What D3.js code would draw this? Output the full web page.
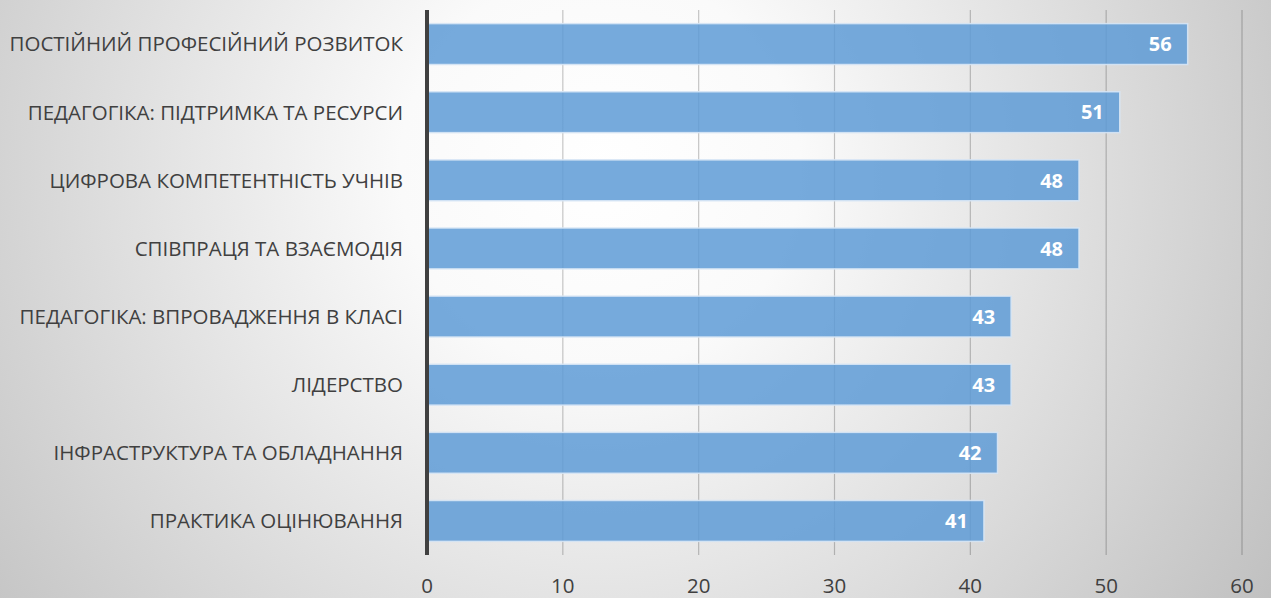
<!DOCTYPE html>
<html>
<head>
<meta charset="utf-8">
<script src="https://d3js.org/d3.v7.min.js"></script>
<style>
  html, body { margin: 0; padding: 0; overflow: hidden; }
  svg { display: block; }
</style>
</head>
<body>
<script>
  // chart data
  var categories = [
    "ПОСТІЙНИЙ ПРОФЕСІЙНИЙ РОЗВИТОК",
    "ПЕДАГОГІКА: ПІДТРИМКА ТА РЕСУРСИ",
    "ЦИФРОВА КОМПЕТЕНТНІСТЬ УЧНІВ",
    "СПІВПРАЦЯ ТА ВЗАЄМОДІЯ",
    "ПЕДАГОГІКА: ВПРОВАДЖЕННЯ В КЛАСІ",
    "ЛІДЕРСТВО",
    "ІНФРАСТРУКТУРА ТА ОБЛАДНАННЯ",
    "ПРАКТИКА ОЦІНЮВАННЯ"
  ];
  var values = [56, 51, 48, 48, 43, 43, 42, 41];
  var ticks = [0, 10, 20, 30, 40, 50, 60];

  function draw() {
    "use strict";
    var W = 1271, H = 598;
    var plotLeft = 427, plotRight = 1242, plotTop = 10, plotBottom = 555;

    var svg = d3.select("body").append("svg")
        .attr("width", W)
        .attr("height", H);

    // background gradient
    var grad = svg.append("defs").append("radialGradient")
        .attr("id", "bg")
        .attr("gradientUnits", "userSpaceOnUse")
        .attr("cx", 600).attr("cy", 170).attr("r", 800);
    grad.append("stop").attr("offset", "0%").attr("stop-color", "#ffffff");
    grad.append("stop").attr("offset", "25%").attr("stop-color", "#fafafa");
    grad.append("stop").attr("offset", "100%").attr("stop-color", "#c0c0c0");
    svg.append("rect").attr("width", W).attr("height", H).attr("fill", "url(#bg)");

    var x = d3.scaleLinear().domain([0, 60]).range([plotLeft, plotRight]);
    var y = d3.scaleBand().domain(categories).range([plotTop, plotBottom])
        .paddingInner(0.4).paddingOuter(0.2);

    // gridlines
    svg.append("g")
      .selectAll("line")
      .data(ticks.slice(1))
      .join("line")
        .attr("x1", d => x(d)).attr("x2", d => x(d))
        .attr("y1", plotTop).attr("y2", plotBottom)
        .attr("stroke", "rgba(0,0,0,0.22)")
        .attr("stroke-width", 1.2);

    // tick labels
    svg.append("g")
      .selectAll("text")
      .data(ticks)
      .join("text")
        .attr("x", d => x(d))
        .attr("y", 593)
        .attr("text-anchor", "middle")
        .style("font-family", "Open Sans")
        .style("font-size", "20.5px")
        .style("fill", "#404040")
        .text(d => d);

    // bars
    svg.append("g")
      .selectAll("rect")
      .data(values)
      .join("rect")
        .attr("x", x(0))
        .attr("y", (d, i) => y(categories[i]))
        .attr("width", d => x(d) - x(0))
        .attr("height", y.bandwidth())
        .attr("fill", "rgba(94,155,214,0.85)")
        .attr("stroke", "rgba(215,230,245,0.9)")
        .attr("stroke-width", 1.5);

    // value labels
    svg.append("g")
      .selectAll("text")
      .data(values)
      .join("text")
        .attr("x", d => x(d) - 16)
        .attr("y", (d, i) => y(categories[i]) + y.bandwidth() / 2)
        .attr("dy", "0.36em")
        .attr("text-anchor", "end")
        .style("font-family", "Open Sans")
        .style("font-weight", "bold")
        .style("font-size", "20px")
        .style("fill", "#ffffff")
        .text(d => d);

    // category labels
    svg.append("g")
      .selectAll("text")
      .data(categories)
      .join("text")
        .attr("x", 403)
        .attr("y", d => y(d) + y.bandwidth() / 2)
        .attr("dy", "0.36em")
        .attr("text-anchor", "end")
        .style("font-family", "Open Sans")
        .style("font-size", "20.5px")
        .style("fill", "#404040")
        .text(d => d);

    // vertical axis line
    svg.append("line")
      .attr("x1", x(0)).attr("x2", x(0))
      .attr("y1", plotTop).attr("y2", plotBottom)
      .attr("stroke", "#404040")
      .attr("stroke-width", 4);
  }

  draw();
</script>
</body>
</html>
